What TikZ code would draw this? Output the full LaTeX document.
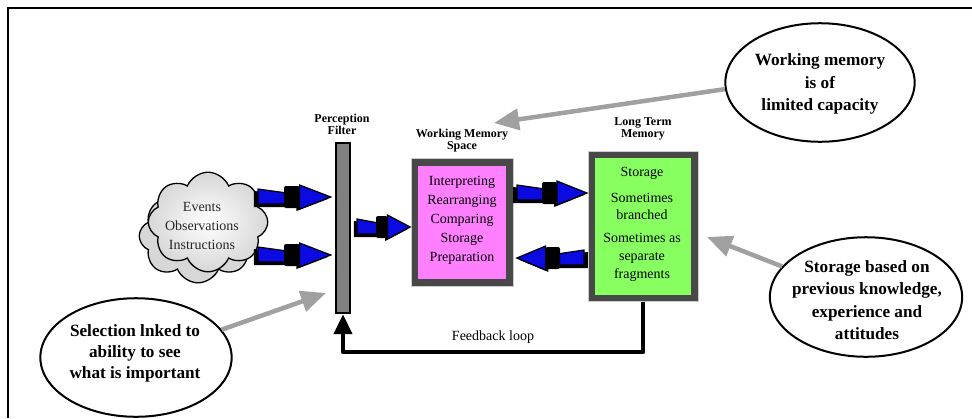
\documentclass[tikz,border=0pt]{standalone}
\usepackage{fontspec}
\setmainfont{Liberation Serif}
\usetikzlibrary{shapes.geometric,shapes.symbols,arrows.meta,calc}

\definecolor{arrowblue}{RGB}{10,10,225}
\definecolor{notegray}{RGB}{160,160,160}
\definecolor{wmpink}{RGB}{255,128,255}
\definecolor{ltmgreen}{RGB}{136,255,96}
\definecolor{rimgray}{RGB}{72,72,72}
\definecolor{filtergray}{RGB}{128,128,128}
\definecolor{cloudgray}{RGB}{215,215,215}

\begin{document}
\begin{tikzpicture}[x=1bp,y=-1bp,
  boxtext/.style={font=\fontsize{14bp}{19bp}\selectfont, align=center, inner sep=0},
  labeltext/.style={font=\bfseries\fontsize{12bp}{12bp}\selectfont, align=center, inner sep=0},
  note/.style={ellipse, draw, line width=2bp, inner sep=0},
  notetext/.style={align=center, inner sep=0, font=\bfseries\fontsize{17.2bp}{22.5bp}\selectfont},
  rim/.style={rectangle, fill=rimgray, draw=white!80!black, line width=0.6bp, inner sep=0},
  face/.style={rectangle, inner sep=0},
  puff/.style={cloud, cloud puffs=8, cloud puff arc=135, aspect=1.2, draw, line width=1.3bp, inner sep=0},
  graypointer/.style={draw=notegray, line width=4.5bp, -{Triangle[length=25bp,width=21bp]}},
  feedback/.style={draw=black, line width=4bp, line join=round, -{Triangle[length=20bp,width=18bp]}},
  blockarrow/.pic={
    % dark side of the shaft
    \fill[black] (-4,-6) -- (26,-3) -- (26,10) -- (-4,10) -- cycle;
    % shaft face
    \filldraw[fill=arrowblue, draw=black, line width=1.2bp] (0,-8) -- (28,-4) -- (28,7) -- (0,7) -- cycle;
    % collar between shaft and head
    \fill[black, rounded corners=2bp] (25,-11) rectangle (40,11);
    % dark side of the head
    \fill[black] (37,-11) -- (67,2) -- (37,14) -- cycle;
    % head face
    \filldraw[fill=arrowblue, draw=black, line width=1.2bp] (40,-12) -- (70,0) -- (40,12) -- cycle;
  }
]
\useasboundingbox (0,0) rectangle (972,418);

% frame
\draw[line width=2bp] (8,418) -- (8,8) -- (972,8);

% input cloud
\node[puff, fill=cloudgray, minimum width=118, minimum height=94] (cloudback) at (198,236) {};
\node[puff, shading=radial, inner color=white, outer color=cloudgray, minimum width=120, minimum height=100] (cloud) at (208,222) {};
\node[boxtext, text=black!85] (cloudtext) at (202,226) {Events\\Observations\\Instructions};

% perception filter
\node[rectangle, fill=filtergray, draw=black, line width=2bp, minimum width=15, minimum height=171, inner sep=0] (filter) at (343,228) {};
\node[labeltext] (filterlabel) at (342,124) {Perception\\Filter};

% working memory space
\node[rim, minimum width=102, minimum height=129] (wm) at (462,222.5) {};
\node[face, fill=wmpink, minimum width=89, minimum height=114] (wmface) at (wm) {};
\node[boxtext] (wmtext) at (462,220) {Interpreting\\Rearranging\\Comparing\\Storage\\Preparation};
\node[labeltext] (wmlabel) at (462,141) {Working Memory\\Space};

% long term memory
\node[rim, minimum width=110, minimum height=151] (ltm) at (643,226.5) {};
\node[face, fill=ltmgreen, minimum width=96, minimum height=137] (ltmface) at (ltm) {};
\node[boxtext] (ltmstore) at (642,173) {Storage};
\node[boxtext, font=\fontsize{14bp}{17bp}\selectfont] (ltmbranch) at (642,206.5) {Sometimes\\branched};
\node[boxtext, font=\fontsize{14bp}{18bp}\selectfont] (ltmfrag) at (642,257) {Sometimes as\\separate\\fragments};
\node[labeltext] (ltmlabel) at (643,129) {Long Term\\Memory};

% block arrows between the stages
\pic[xscale=1.04] at (258,197) {blockarrow};
\pic[xscale=1.04] at (258,255) {blockarrow};
\pic[xscale=0.76] at (357,227) {blockarrow};
\pic at (517,193) {blockarrow};
\pic[xscale=-0.96] at (584,258) {blockarrow};

% feedback loop
\draw[feedback] (ltm.south) |- ($(filter.south)+(0,38)$) -- (filter.south);
\node[boxtext, font=\fontsize{14bp}{17bp}\selectfont] (fblabel) at (493,337) {Feedback loop};

% notes
\node[note, minimum width=190, minimum height=119] (wmnote) at (820,82.5) {};
\node[notetext] (wmnotetext) at (820,84) {Working memory\\is of\\limited capacity};
\node[note, minimum width=193, minimum height=120] (stnote) at (866,297) {};
\node[notetext] (stnotetext) at (867,300) {Storage based on\\previous knowledge,\\experience and\\attitudes};
\node[note, minimum width=192, minimum height=119] (selnote) at (136,357.5) {};
\node[notetext, font=\bfseries\fontsize{17.2bp}{21bp}\selectfont] (selnotetext) at (135,353) {Selection lnked to\\ability to see\\what is important};

\coordinate (wmtip) at (494,123);
\coordinate (ltmtip) at (707,237);
\coordinate (seltip) at (326,293);
\draw[graypointer] (wmnote.184) -- (wmtip);
\draw[graypointer] (stnote.160) -- (ltmtip);
\draw[graypointer] (selnote.18) -- (seltip);
\end{tikzpicture}
\end{document}
